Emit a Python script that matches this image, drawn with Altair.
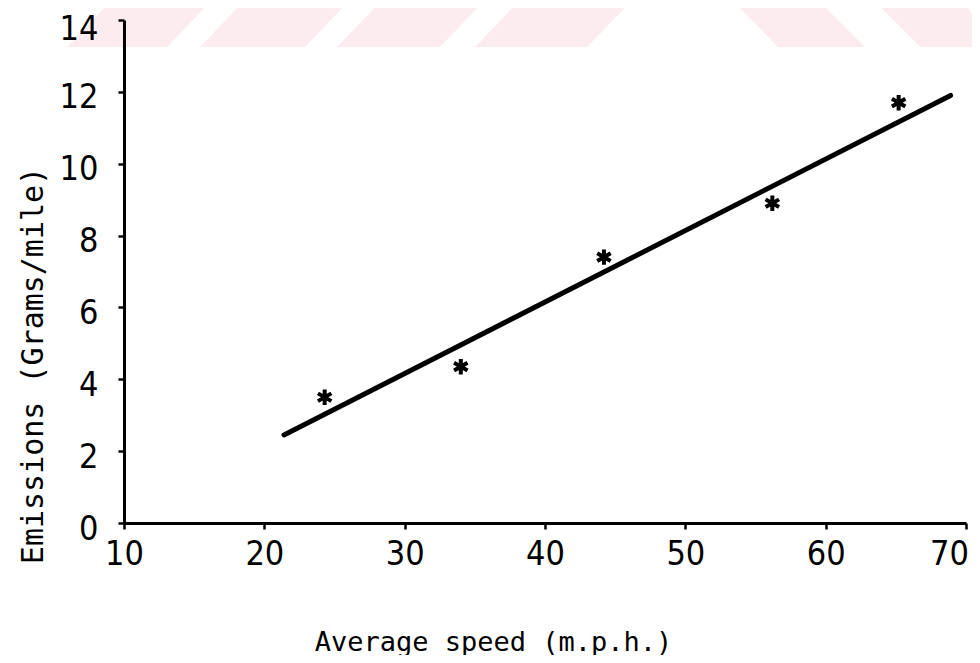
import altair as alt
import pandas as pd

# ---- chart values ----
speed = [24.3, 34.0, 44.2, 56.2, 65.2]          # average speed (m.p.h.)
emissions = [3.5, 4.35, 7.4, 8.9, 11.7]         # grams / mile
fit_speed = [21.4, 68.9]                        # fitted line end points
fit_emissions = [2.45, 11.9]
x_ticks = [10, 20, 30, 40, 50, 60, 70]
y_ticks = [0, 2, 4, 6, 8, 10, 12, 14]

# ---- decorative pink watermark band of the scan (plot-area pixel space) ----
wm_top_y, wm_bottom_y = -20, 27
wm_top_left = [-12, 121, 258, 396, 608, 749]
wm_top_right = [88, 226, 361, 509, 694, 839]
wm_bot_left = [-57, 76, 213, 351, 654, 796]
wm_bot_right = [43, 181, 316, 463, 741, 870]

pts_df = pd.DataFrame({"speed": speed, "emissions": emissions})
fit_df = pd.DataFrame({"speed": fit_speed, "emissions": fit_emissions})
wm_rows = []
for i in range(len(wm_top_left)):
    wm_rows.append({"id": i, "wy": wm_top_y, "wx": wm_top_left[i], "wx2": wm_top_right[i]})
    wm_rows.append({"id": i, "wy": wm_bottom_y, "wx": wm_bot_left[i], "wx2": wm_bot_right[i]})
wm_df = pd.DataFrame(wm_rows)

ASTER = "M0,-1L0,1M-0.87,-0.5L0.87,0.5M-0.87,0.5L0.87,-0.5"

x_scale = alt.Scale(domain=[10, 70], nice=False, zero=False)
y_scale = alt.Scale(domain=[0, 14], nice=False, zero=True)

x_axis = alt.Axis(
    values=x_ticks, format="d", title="Average speed (m.p.h.)",
    labelPadding=8, labelFlush=False,
    labelOffset={"condition": {"test": "datum.value >= 70", "value": -17}, "value": 0},
    titleX=369, titleY=127, titleAlign="center",
    titleBaseline="alphabetic", titleFontSize=27, zindex=1,
)
y_axis = alt.Axis(
    values=y_ticks, format="d", title="Emissions (Grams/mile)",
    labelPadding=20, labelFlush=False,
    labelOffset={"condition": {"test": "datum.value == 14", "value": 9}, "value": 6},
    titleX=-82, titleY=345, titleAngle=270,
    titleAlign="center", titleBaseline="alphabetic", titleFontSize=30, zindex=1,
)

wm = alt.Chart(wm_df).mark_area(orient="horizontal", color="#fdecef", opacity=1).encode(
    y=alt.Y("wy:Q", scale=None, axis=None),
    x=alt.X("wx:Q", scale=None, axis=None),
    x2="wx2:Q",
    detail="id:N",
)

line = alt.Chart(fit_df).mark_line(color="black", strokeWidth=5, strokeCap="round").encode(
    x=alt.X("speed:Q", scale=x_scale, axis=x_axis),
    y=alt.Y("emissions:Q", scale=y_scale, axis=y_axis),
)

pts = alt.Chart(pts_df).mark_point(
    shape=ASTER, size=240, filled=False, color="black", strokeWidth=4, opacity=1
).encode(x="speed:Q", y="emissions:Q")

chart = alt.layer(wm, alt.layer(line, pts)).resolve_scale(
    x="independent", y="independent"
).properties(
    width=842, height=503,
    padding={"left": 116, "top": 12, "right": 6, "bottom": 132},
    autosize=alt.AutoSizeParams(type="none"),
    background="white",
).configure_view(stroke=None).configure_axis(
    grid=False,
    domainColor="black", domainWidth=3,
    tickColor="black", tickWidth=2.5, tickSize=6,
    labelColor="black", labelFontSize=34,
    labelFont="Liberation Sans Narrow, DejaVu Sans Condensed, sans-serif",
    titleColor="black", titleFont="DejaVu Sans Mono", titleFontWeight="normal",
)

chart.save("out.html", embed_options={"renderer": "svg", "actions": False})
